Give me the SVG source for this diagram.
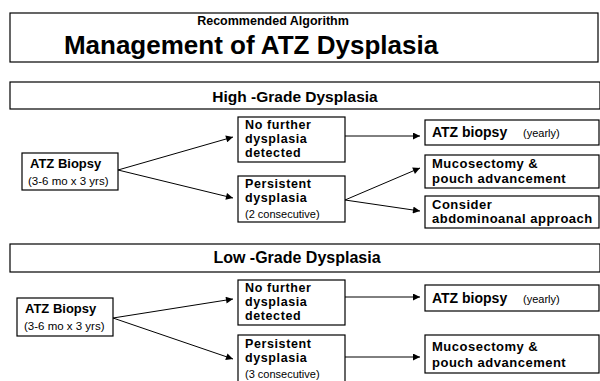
<svg xmlns="http://www.w3.org/2000/svg" width="600" height="381" viewBox="0 0 600 381">
<defs>
<style>
.box{fill:#fff;stroke:#000;stroke-width:1.2}
.b{font-family:"Liberation Sans",Arial,sans-serif;font-weight:bold;fill:#000}
.n{font-size:12.5px;letter-spacing:0.6px}
.m{font-size:13px;letter-spacing:0.5px}
.r{font-family:"Liberation Sans",Arial,sans-serif;fill:#000}
.c{stroke:#000;stroke-width:1;fill:none;marker-end:url(#ah)}
</style>
<marker id="ah" viewBox="0 0 10 10" refX="10" refY="5" markerWidth="9" markerHeight="7" markerUnits="userSpaceOnUse" orient="auto">
<path d="M0,0 L10,5 L0,10 z" fill="#000"/>
</marker>
</defs>
<rect width="600" height="381" fill="#fff"/>

<g id="title">
<rect class="box" x="10" y="13" width="588" height="49"/>
<text class="b" x="273" y="25" font-size="12.5" text-anchor="middle">Recommended Algorithm</text>
<text class="b" x="251" y="54" font-size="26" text-anchor="middle">Management of ATZ Dysplasia</text>
</g>

<g id="hg-header">
<rect class="box" x="10" y="82" width="590" height="27"/>
<text class="b" x="295" y="102" font-size="15.5" text-anchor="middle">High -Grade Dysplasia</text>
</g>

<g id="hg-biopsy">
<rect class="box" x="22" y="153" width="96" height="37"/>
<text class="b" x="30" y="168" font-size="13">ATZ Biopsy</text>
<text class="r" x="28" y="185" font-size="11.5">(3-6 mo x 3  yrs)</text>
</g>

<g id="hg-nofurther">
<rect class="box" x="238" y="117" width="107" height="45"/>
<text class="b n" x="245" y="128.5">No further</text>
<text class="b n" x="245" y="142.5">dysplasia</text>
<text class="b n" x="245" y="156.5">detected</text>
</g>

<g id="hg-persistent">
<rect class="box" x="238" y="176" width="107" height="46"/>
<text class="b n" x="245" y="188">Persistent</text>
<text class="b n" x="245" y="202">dysplasia</text>
<text class="r" x="245" y="217.5" font-size="11">(2 consecutive)</text>
</g>

<g id="hg-yearly">
<rect class="box" x="425" y="120" width="174" height="25"/>
<text class="b" x="432" y="137" font-size="14">ATZ biopsy</text>
<text class="r" x="523" y="137" font-size="11">(yearly)</text>
</g>

<g id="hg-mucosectomy">
<rect class="box" x="425" y="155" width="174" height="33"/>
<text class="b m" x="432" y="168">Mucosectomy &amp;</text>
<text class="b m" x="432" y="182.5">pouch advancement</text>
</g>

<g id="hg-consider">
<rect class="box" x="425" y="196" width="174" height="32"/>
<text class="b m" x="432" y="208.5">Consider</text>
<text class="b m" x="432" y="223">abdominoanal approach</text>
</g>

<g id="lg-header">
<rect class="box" x="10" y="244" width="590" height="28"/>
<text class="b" x="297" y="263" font-size="16" text-anchor="middle">Low -Grade Dysplasia</text>
</g>

<g id="lg-biopsy">
<rect class="box" x="17" y="298" width="96" height="38"/>
<text class="b" x="25" y="313" font-size="13">ATZ Biopsy</text>
<text class="r" x="24" y="330" font-size="11.5">(3-6 mo x 3  yrs)</text>
</g>

<g id="lg-nofurther">
<rect class="box" x="238" y="280" width="107" height="45"/>
<text class="b n" x="245" y="291.5">No further</text>
<text class="b n" x="245" y="305.5">dysplasia</text>
<text class="b n" x="245" y="319.5">detected</text>
</g>

<g id="lg-persistent">
<rect class="box" x="238" y="335" width="107" height="50"/>
<text class="b n" x="245" y="347.5">Persistent</text>
<text class="b n" x="245" y="361.5">dysplasia</text>
<text class="r" x="245" y="377.5" font-size="11">(3 consecutive)</text>
</g>

<g id="lg-yearly">
<rect class="box" x="425" y="285" width="174" height="26"/>
<text class="b" x="432" y="303" font-size="14">ATZ biopsy</text>
<text class="r" x="523" y="303" font-size="11">(yearly)</text>
</g>

<g id="lg-mucosectomy">
<rect class="box" x="425" y="335" width="174" height="38"/>
<text class="b m" x="432" y="351">Mucosectomy &amp;</text>
<text class="b m" x="432" y="366.5">pouch advancement</text>
</g>

<g id="connectors">
<line class="c" x1="118" y1="170" x2="233" y2="137"/>
<line class="c" x1="118" y1="170" x2="233" y2="198"/>
<line class="c" x1="345" y1="136" x2="420" y2="136"/>
<line class="c" x1="345" y1="200" x2="420" y2="168"/>
<line class="c" x1="345" y1="200" x2="420" y2="211"/>
<line class="c" x1="113" y1="318" x2="233" y2="299"/>
<line class="c" x1="113" y1="318" x2="233" y2="359"/>
<line class="c" x1="345" y1="297" x2="420" y2="297"/>
<line class="c" x1="345" y1="357" x2="420" y2="357"/>
</g>
</svg>
